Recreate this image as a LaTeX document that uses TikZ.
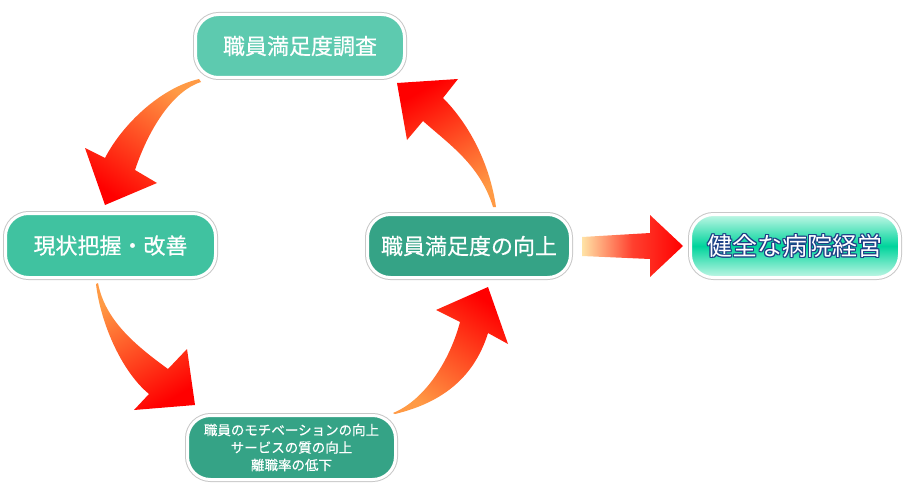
\documentclass[tikz,border=0pt]{standalone}
\usepackage{fontspec}
\newfontfamily\jp{Noto Sans CJK JP}[FakeBold=0.5]
\newfontfamily\jpo{Noto Sans CJK JP}
\definecolor{boxA}{HTML}{5DCAAF}
\definecolor{boxB}{HTML}{40C2A0}
\definecolor{boxC}{HTML}{35A386}
\definecolor{mintlight}{HTML}{C2F7E6}
\definecolor{mintmid}{HTML}{00D49C}
\definecolor{navyc}{HTML}{1C3F86}
\definecolor{arrorange}{HTML}{FF9A45}
\definecolor{arrred}{HTML}{FF0000}
\definecolor{peach}{HTML}{FFE3A6}
\definecolor{frame}{HTML}{C8C8C8}
\tikzset{
  pbox/.style={draw=white, line width=3pt, rounded corners=23pt,
    preaction={draw=frame, line width=5pt},
    minimum width=#1, minimum height=63pt, inner sep=0pt, text=white},
  bigtext/.style={font=\jpo\fontsize{25}{29}\selectfont},
}
\begin{document}
\begin{tikzpicture}[x=1pt,y=-1pt]
\useasboundingbox (0,0) rectangle (904,500);
% boxes
\node[pbox=209pt, fill=boxA, font=\jp\fontsize{22}{26}\selectfont] (survey) at (300,46) {職員満足度調査};
\node[pbox=210pt, fill=boxB, minimum height=64pt, font=\jp\fontsize{22}{26}\selectfont] (grasp) at (110.5,245.5) {現状把握・改善};
\node[pbox=203pt, fill=boxC, font=\jp\fontsize{22}{26}\selectfont] (improve) at (469,246) {職員満足度の向上};
\node[pbox=208pt, fill=boxC, minimum height=64pt, font=\jp\fontsize{13.5}{17.5}\selectfont, align=center] (motiv) at (291.5,447.5) {職員のモチベーションの向上\\サービスの質の向上\\離職率の低下};
\node[pbox=209pt, top color=mintlight, bottom color=mintlight, middle color=mintmid] (health) at (795,246) {};
\foreach \dx/\dy in {-1.2/0,1.2/0,0/-1.2,0/1.2,-0.85/-0.85,0.85/-0.85,-0.85/0.85,0.85/0.85}
  \node[text=navyc, bigtext] at ([shift={(\dx,\dy)}]health.center) {健全な病院経営};
\node[text=white, bigtext] (healthtxt) at (health.center) {健全な病院経営};
% curved arrows
\shade[top color=arrorange, bottom color=arrred, shading angle=-35]
  (199,79) .. controls (160,88) and (122,125) .. (105,158)
  -- (85,148) -- (105,205) -- (157,183) -- (135,170)
  .. controls (150,125) and (175,90) .. (201,82) -- cycle;
\shade[top color=arrorange, bottom color=arrred, shading angle=30]
  (98,283) .. controls (105,320) and (135,345) .. (168,369)
  -- (187,349) -- (195,405) -- (134,410) -- (149,394)
  .. controls (120,370) and (100,320) .. (96,284) -- cycle;
\shade[top color=arrred, bottom color=arrorange, shading angle=-35]
  (393,413) .. controls (425,400) and (450,360) .. (460,322)
  -- (436,310) -- (488,287) -- (508,344) -- (488,333)
  .. controls (475,375) and (445,402) .. (395,414) -- cycle;
\shade[top color=arrred, bottom color=arrorange, shading angle=30]
  (496,207) .. controls (490,165) and (470,125) .. (443,98)
  -- (458,79) -- (397,83) -- (407,140) -- (423,121)
  .. controls (450,145) and (480,165) .. (493,207) -- cycle;
% straight arrow
\shade[left color=peach, right color=arrred, middle color=arrred!72!peach]
  (582,237) -- (650,233) -- (650,215) -- (683,246) -- (650,277) -- (650,259) -- (582,256) -- cycle;
\end{tikzpicture}
\end{document}
